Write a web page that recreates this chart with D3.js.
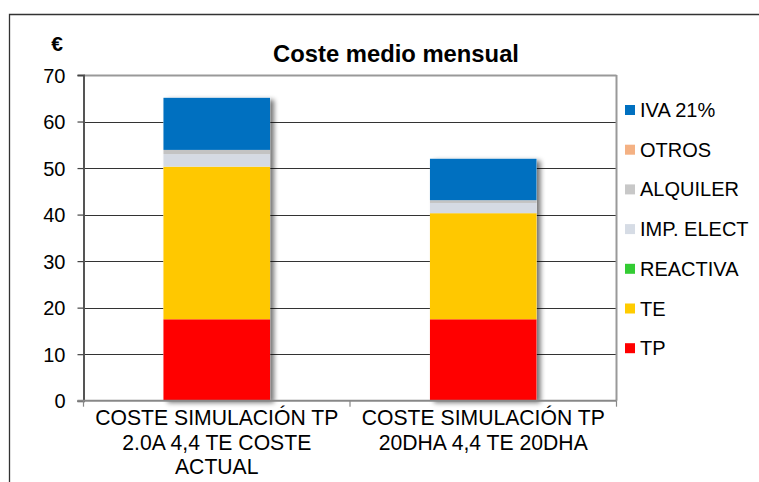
<!DOCTYPE html>
<html><head><meta charset="utf-8">
<script src="https://cdn.jsdelivr.net/npm/d3@7/dist/d3.min.js"></script>
<style>
html,body{margin:0;padding:0;background:#fff;}
svg{display:block;font-family:"Liberation Sans",Arial,sans-serif;}
</style></head>
<body>
<svg id="c" width="759" height="482"></svg>
<script>
const categories = [["COSTE SIMULACIÓN TP","2.0A 4,4 TE COSTE","ACTUAL"],["COSTE SIMULACIÓN TP","20DHA 4,4 TE 20DHA"]];
const seriesNames = ["TP","TE","REACTIVA","IMP. ELECT","ALQUILER","OTROS","IVA 21%"];
const TP = [17.5, 17.5];
const TE = [32.8, 22.8];
const REACTIVA = [0, 0];
const IMP_ELECT = [2.7, 2.2];
const ALQUILER = [0.9, 0.6];
const OTROS = [0, 0];
const IVA = [11.2, 8.9];
const yTicks = [0,10,20,30,40,50,60,70];
const title = "Coste medio mensual";
const yUnit = "€";

const seriesValues = [TP, TE, REACTIVA, IMP_ELECT, ALQUILER, OTROS, IVA];
const barColors = ["#FF0000","#FFC800","#33CC33","#D5DAE3","#C3C3C3","#F4B183","#0070C0"];
const legendColors = ["#FF0000","#FFCC00","#33CC33","#D6DCE5","#C8C8C8","#F4B183","#0070C0"];

const svg = d3.select("#c");
const defs = svg.append("defs");
const f = defs.append("filter").attr("id","sh").attr("x","-10%").attr("y","-10%").attr("width","130%").attr("height","130%");
f.append("feGaussianBlur").attr("in","SourceAlpha").attr("stdDeviation",2.5).attr("result","b");
f.append("feOffset").attr("in","b").attr("dx",4).attr("dy",2).attr("result","o");
f.append("feComponentTransfer").attr("in","o").attr("result","o2").append("feFuncA").attr("type","linear").attr("slope",0.55);
const m = f.append("feMerge"); m.append("feMergeNode").attr("in","o2"); m.append("feMergeNode").attr("in","SourceGraphic");

// outer frame
svg.append("path").attr("d","M9.5,482 V14.5 H759").attr("fill","none").attr("stroke","#333").attr("stroke-width",1.3);

const L=83.5, R=616.5, T=75, B=400.7;
const idx = categories.map((c,i)=>i);
const x = d3.scaleBand().domain(idx).range([L,R]).paddingInner(0.6).paddingOuter(0.3);
const y = d3.scaleLinear().domain([0,70]).range([B,T]);

// gridlines
svg.append("g").selectAll("line").data(yTicks.filter(t=>t>0)).join("line")
  .attr("x1",L).attr("x2",R).attr("y1",d=>Math.round(y(d))+0.5).attr("y2",d=>Math.round(y(d))+0.5)
  .attr("stroke",d=>d===70?"#999":"#333").attr("stroke-width",d=>d===70?2:1.2);
// right border
svg.append("line").attr("x1",R).attr("x2",R).attr("y1",T).attr("y2",B).attr("stroke","#999").attr("stroke-width",2);

// stacked bars
const data = idx.map(i=>{const o={i}; seriesNames.forEach((s,k)=>o[s]=seriesValues[k][i]); return o;});
const stack = d3.stack().keys(seriesNames)(data);
const gb = svg.append("g");
idx.forEach(i=>{
  const total = d3.sum(seriesValues,s=>s[i]);
  gb.append("rect").attr("x",x(i)).attr("width",x.bandwidth()).attr("y",y(total)).attr("height",y(0)-y(total))
    .attr("fill","#fff").attr("filter","url(#sh)");
});
stack.forEach((layer,k)=>{
  gb.append("g").selectAll("rect").data(layer).join("rect")
    .attr("x",(d,j)=>x(j)).attr("width",x.bandwidth())
    .attr("y",d=>y(d[1])).attr("height",d=>Math.max(0,y(d[0])-y(d[1])))
    .attr("fill",barColors[k]);
});
// axes
const ya = d3.axisLeft(y).tickValues(yTicks).tickSize(6).tickPadding(12);
const gy = svg.append("g").attr("transform",`translate(${L},0)`).call(ya);
gy.attr("font-family",null).attr("font-size",null);
gy.select(".domain").attr("stroke","#555").attr("stroke-width",2);
gy.selectAll(".tick line").attr("stroke","#444").attr("stroke-width",1.2);
gy.selectAll(".tick text").attr("font-size",20).attr("fill","#000").attr("dy","0.36em");

const gx = svg.append("g").attr("transform",`translate(0,${B})`);
gx.append("line").attr("x1",L-6).attr("x2",R).attr("y1",0).attr("y2",0).attr("stroke","#888").attr("stroke-width",2);
const bounds = [L, (x(0)+x.bandwidth()+x(1))/2, R];
gx.selectAll("line.tk").data(bounds).join("line").attr("class","tk").attr("x1",d=>d).attr("x2",d=>d).attr("y1",0).attr("y2",6).attr("stroke","#888").attr("stroke-width",1.2);
idx.forEach(i=>{
  const t = gx.append("text").attr("text-anchor","middle").attr("font-size",21.5).attr("fill","#000")
    .attr("transform",`translate(${x(i)+x.bandwidth()/2},0) scale(0.985,1)`);
  categories[i].forEach((ln,j)=>t.append("tspan").attr("x",0).attr("y",24.5+j*24.5).text(ln));
});

// title
svg.append("text").attr("x",396).attr("y",62).attr("text-anchor","middle").attr("font-size",23.8).attr("font-weight","bold").text(title);
svg.append("text").attr("x",57).attr("y",51).attr("text-anchor","middle").attr("font-size",21).attr("font-weight","bold").text(yUnit);

// legend
const legOrder = seriesNames.map((s,k)=>k).reverse();
const lg = svg.append("g");
legOrder.forEach((k,j)=>{
  const cy = 110 + j*39.7;
  lg.append("rect").attr("x",625).attr("y",cy-5).attr("width",10).attr("height",10).attr("fill",legendColors[k]);
  lg.append("text").attr("x",640).attr("y",cy+7).attr("font-size",20).attr("fill","#000").text(seriesNames[k]);
});
</script>
</body></html>
